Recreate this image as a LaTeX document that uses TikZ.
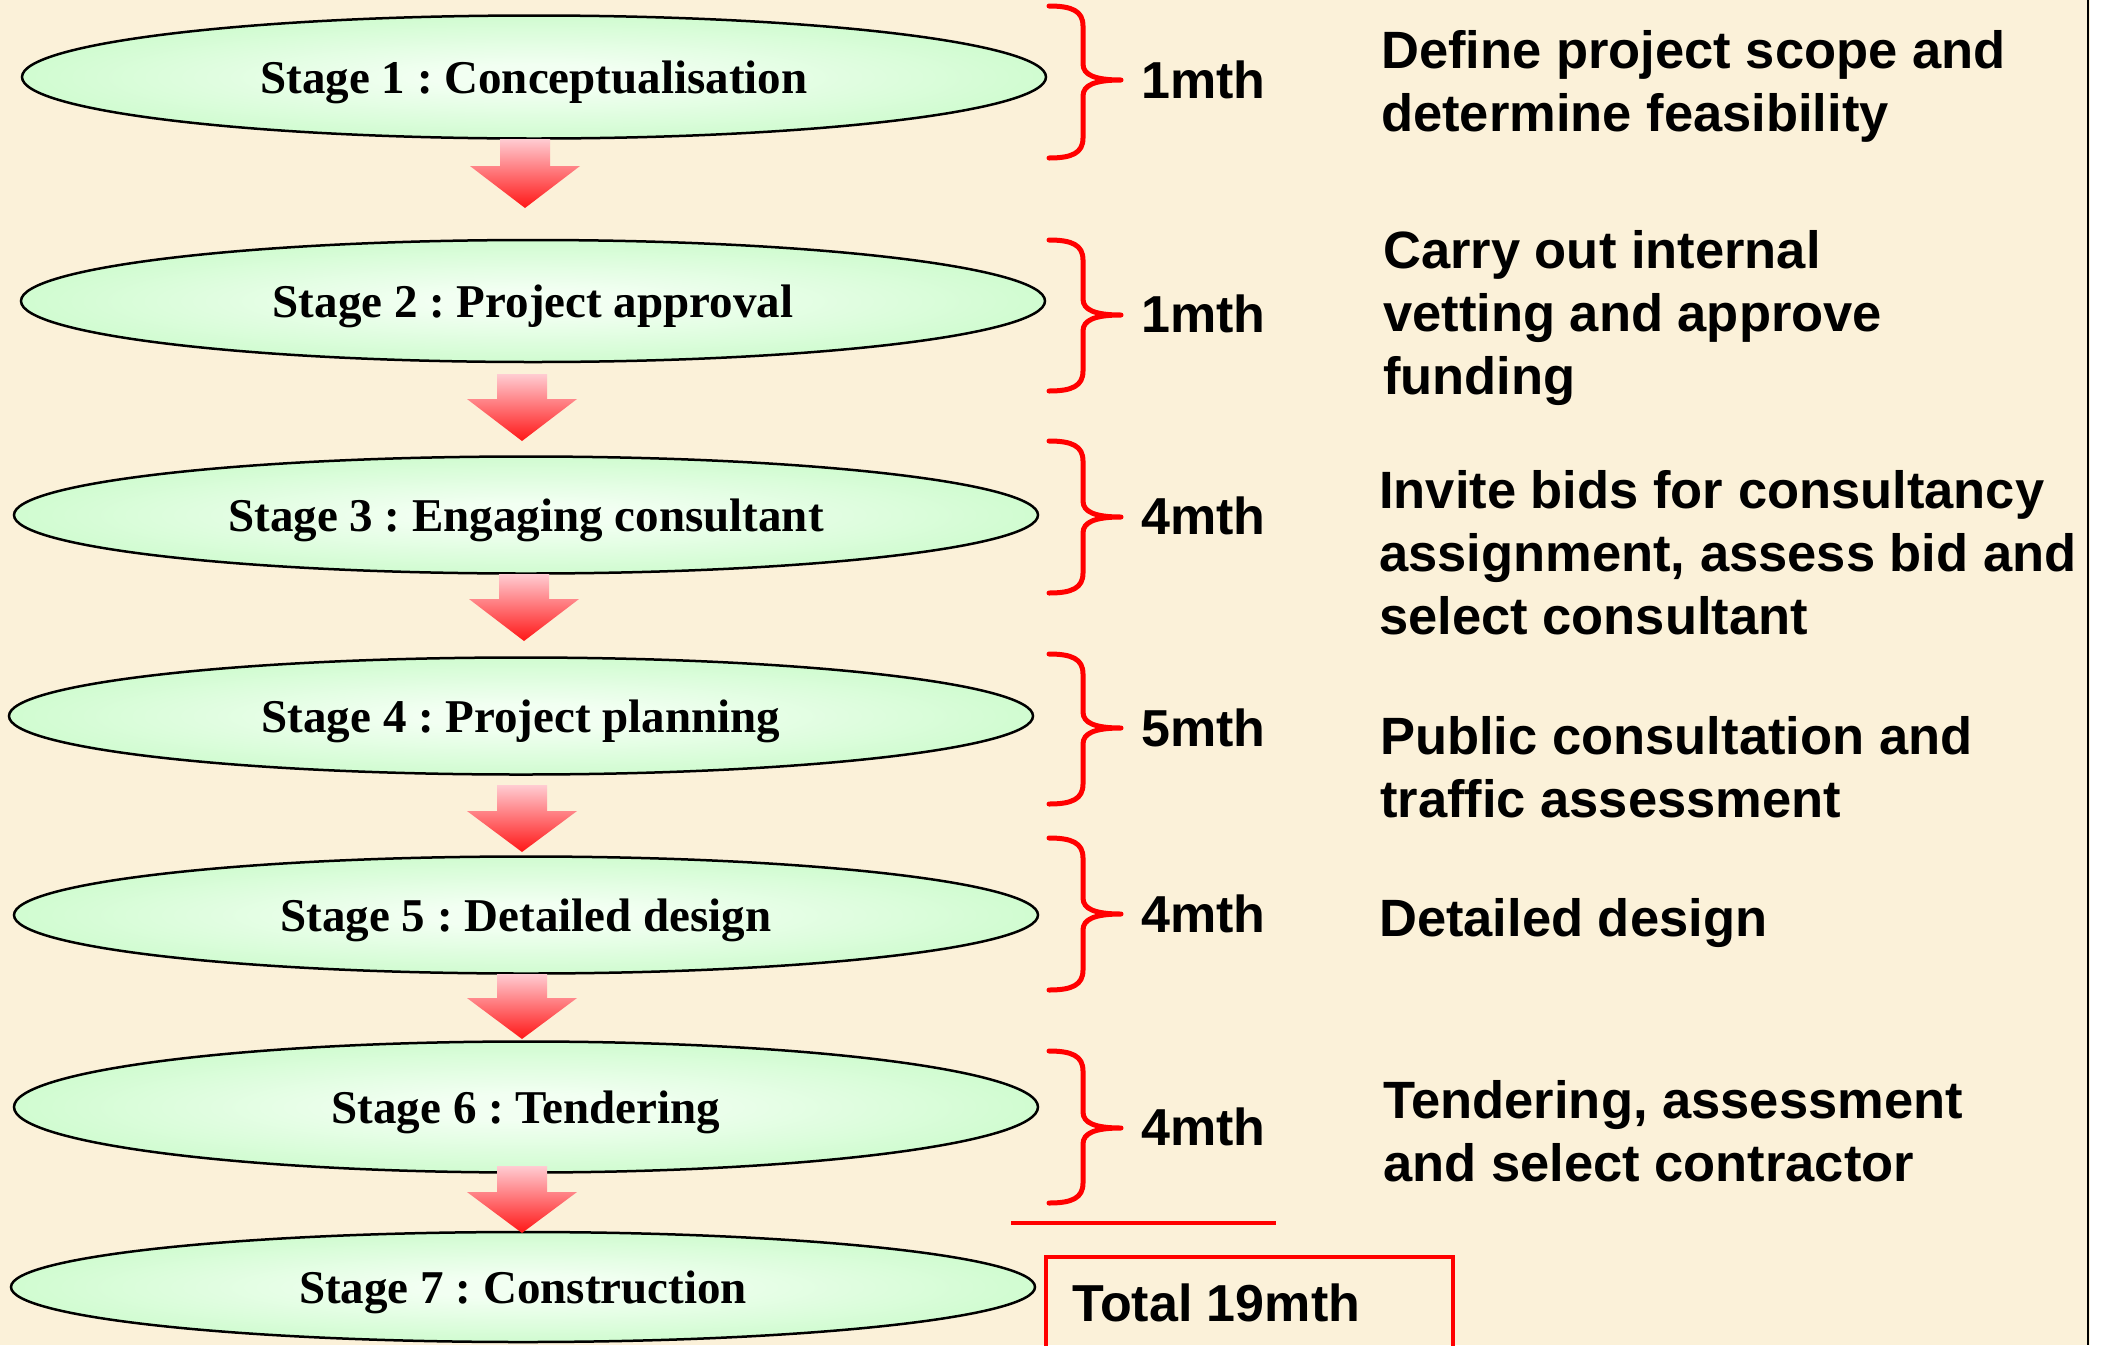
\documentclass[tikz,border=0pt]{standalone}
\usepackage{fontspec}
\setmainfont{Liberation Serif}
\newfontfamily\arialfont{Liberation Sans}
\usetikzlibrary{shapes.geometric}
\frenchspacing
\definecolor{bgc}{RGB}{251,241,217}
\definecolor{stin}{RGB}{242,255,242}
\definecolor{stout}{RGB}{200,251,200}
\definecolor{arrtop}{RGB}{255,204,210}
\definecolor{arrbot}{RGB}{255,22,22}
\definecolor{bracered}{RGB}{255,0,0}
\pgfdeclareradialshading{stageshade}{\pgfpoint{0bp}{0bp}}{color(0bp)=(stin); color(5bp)=(stin); color(30bp)=(stout); color(50bp)=(stout)}
\tikzset{
  stage/.style={ellipse, draw=black, line width=2.5pt, shade, shading=stageshade,
    inner sep=0pt, minimum width=1024pt,
    font=\fontsize{47}{56}\selectfont\bfseries, text height=32pt, text depth=0pt},
  dur/.style={anchor=base west, inner sep=0pt, font=\arialfont\bfseries\fontsize{52}{64}\selectfont},
  desc/.style={anchor=base west, inner sep=0pt, font=\arialfont\bfseries\fontsize{52.5}{63}\selectfont},
  bracepath/.style={draw=bracered, line width=5pt, line cap=round, line join=round},
  arrshade/.style={top color=arrtop, bottom color=arrbot, draw=none},
}
\newcommand\mybrace[3]{%
  \draw[bracepath] (1049,#1) .. controls (1072,#1) and (1083,#1+5) .. (1083,#1+20)
    -- (1083,#2-16) .. controls (1083,#2-5) and (1095,#2) .. (1121,#2)
    .. controls (1095,#2) and (1083,#2+5) .. (1083,#2+16)
    -- (1083,#3-20) .. controls (1083,#3-5) and (1072,#3) .. (1049,#3);}
\newcommand\blockarr[4]{%
  \shade[arrshade] ({#1-25},#2) -- ({#1+25},#2) -- ({#1+25},#3) -- ({#1+55},#3)
    -- (#1,#4) -- ({#1-55},#3) -- ({#1-25},#3) -- cycle;}
\newcommand\twolines[2]{\vtop{\hbox{#1}\hbox{#2}}}
\newcommand\threelines[3]{\vtop{\hbox{#1}\hbox{#2}\hbox{#3}}}
\begin{document}
\begin{tikzpicture}[x=1pt, y=-1pt]
\useasboundingbox (0,0) rectangle (2101,1345);
\fill[bgc] (0,0) rectangle (2101,1345);

% stages
\node[stage, minimum height=123pt] (e1) at (534,77) {Stage 1 : Conceptualisation};
\node[stage, minimum height=122pt] (e2) at (533,301) {Stage 2 : Project approval};
\node[stage, minimum height=117pt] (e3) at (526,515) {Stage 3 : Engaging consultant};
\node[stage, minimum height=117pt] (e4) at (521,716) {Stage 4 : Project planning};
\node[stage, minimum height=117pt] (e5) at (526,915) {Stage 5 : Detailed design};
\node[stage, minimum height=131pt] (e6) at (526,1107) {Stage 6 : Tendering};
\node[stage, minimum height=110pt] (e7) at (523,1287) {Stage 7 : Construction};

% block arrows
\blockarr{525}{139}{166}{208}
\blockarr{522}{374}{399}{441}
\blockarr{524}{574}{599}{641}
\blockarr{522}{785}{811}{852}
\blockarr{522}{974}{998}{1039}
\blockarr{522}{1166}{1192}{1233}

% braces
\mybrace{6}{80}{158}
\mybrace{240}{315}{391}
\mybrace{441}{517}{593}
\mybrace{654}{728}{804}
\mybrace{838}{914}{990}
\mybrace{1051}{1128}{1203}

% durations
\node[dur] (d1) at (1141,98) {1mth};
\node[dur] (d2) at (1141,332) {1mth};
\node[dur] (d3) at (1141,534) {4mth};
\node[dur] (d4) at (1141,746) {5mth};
\node[dur] (d5) at (1141,932) {4mth};
\node[dur] (d6) at (1141,1145) {4mth};

% descriptions
\node[desc] (t1) at (1381,68) {\twolines{Define project scope and}{determine feasibility}};
\node[desc] (t2) at (1383,268) {\threelines{Carry out internal}{vetting and approve}{funding}};
\node[desc] (t3) at (1379,508) {\threelines{Invite bids for consultancy}{assignment, assess bid and}{select consultant}};
\node[desc] (t4) at (1380,754) {\twolines{Public consultation and}{traffic assessment}};
\node[desc] (t5) at (1379,936) {Detailed design};
\node[desc] (t6) at (1383,1118) {\twolines{Tendering, assessment}{and select contractor}};

% total
\draw[bracered, line width=4pt] (1011,1223) -- (1276,1223);
\node[draw=bracered, line width=4pt, anchor=north west, minimum width=407pt,
      minimum height=130pt, inner sep=0pt] (tbox) at (1044,1255) {};
\node[dur] (tot) at (1072,1321) {Total 19mth};

% right frame edge
\fill[white] (2089.5,0) rectangle (2101,1345);
\draw[black, line width=2.5pt] (2088,0) -- (2088,1345);
\end{tikzpicture}
\end{document}
